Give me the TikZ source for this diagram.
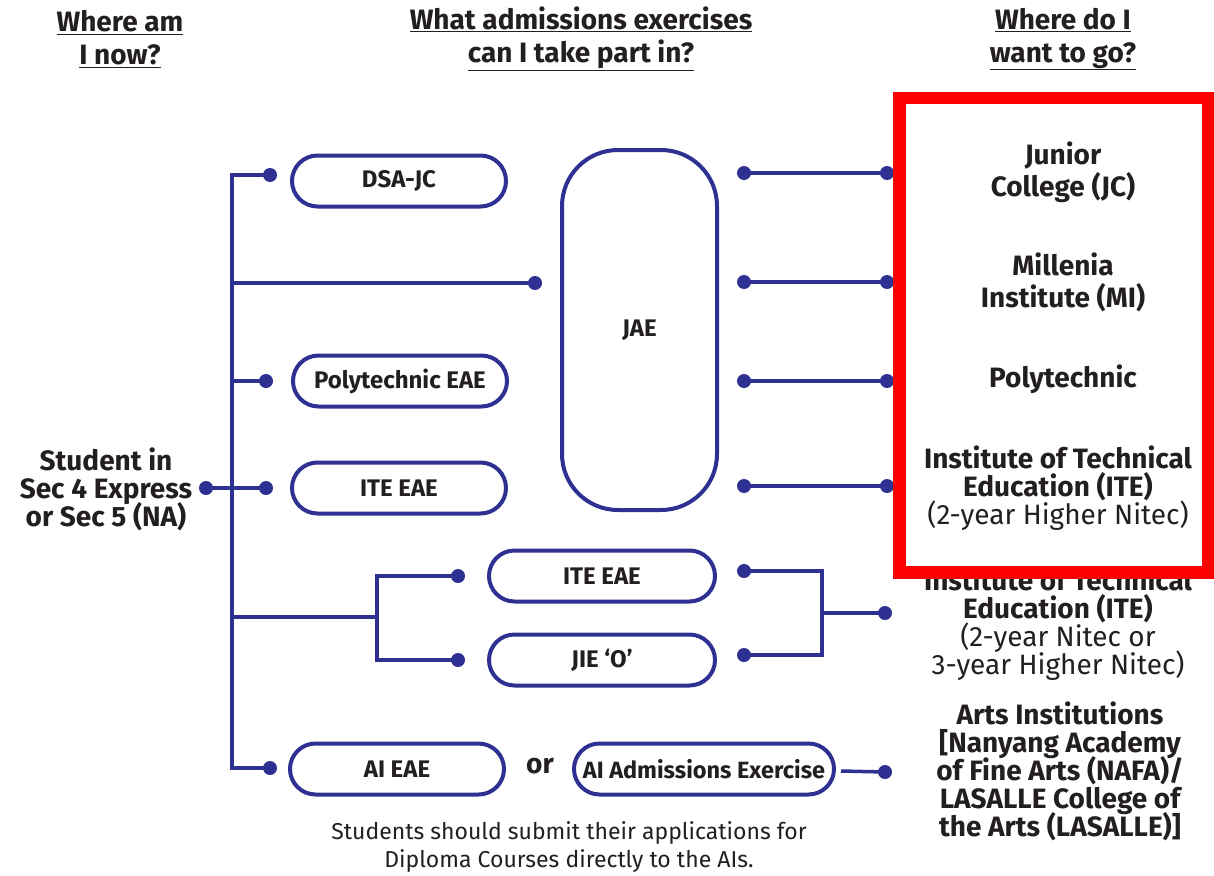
\documentclass[tikz,border=0pt]{standalone}
\usepackage{fontspec}
\setmainfont{Fira Sans}
\usetikzlibrary{shapes.misc}
\definecolor{navy}{HTML}{2E3192}
\definecolor{ink}{HTML}{231F20}
\newcommand\tightlines{\lineskiplimit=-30pt\relax\lineskip=0pt\relax}
\begin{document}
\begin{tikzpicture}[x=1pt,y=-1pt,
  link/.style={draw=navy, line width=3.5pt},
  dot/.style={circle, fill=navy, inner sep=0pt, minimum size=14pt},
  pill/.style={draw=navy, line width=4pt, rounded rectangle, minimum width=214pt, minimum height=51pt, inner sep=0pt, text=ink, font=\bfseries\fontsize{24}{26}\selectfont},
  dest/.style={align=center, text=ink, font=\bfseries\fontsize{28}{28}\selectfont\tightlines},
  head/.style={align=center, text=ink, font=\bfseries\fontsize{28}{33}\selectfont},
  note/.style={align=center, text=ink, font=\fontsize{23}{28}\selectfont\tightlines}]
\useasboundingbox (0,0) rectangle (1214,875);
\fill[white] (0,0) rectangle (1214,875);

% headings
\node[head] (h1) at (120,39) {\underline{Where am}\\\underline{I now?}};
\node[head] (h2) at (581,39) {\underline{What admissions exercises}\\\underline{can I take part in?}};
\node[head] (h3) at (1063,39) {\underline{Where do I}\\\underline{want to go?}};

% start
\node[dest] (st) at (106,489) {Student in\\Sec 4 Express\\or Sec 5 (NA)};
\node[dot] (d0) at (206,488) {};

% trunk coordinates
\coordinate (tTop) at (232,175);
\coordinate (tBot) at (232,768);
\coordinate (tJAE) at (232,283);
\coordinate (tPoly) at (232,381);
\coordinate (tITE) at (232,488);
\coordinate (tLow) at (232,617);
\coordinate (bL) at (377,617);
\coordinate (bLt) at (377,576);
\coordinate (bLb) at (377,660);
\coordinate (bRt) at (822,571);
\coordinate (bRb) at (822,655);
\coordinate (bRm) at (822,613);

% dots feeding exercises
\node[dot] (dDSA) at (270,175) {};
\node[dot] (dJAE) at (535,283) {};
\node[dot] (dPoly) at (266,381) {};
\node[dot] (dITE) at (266,488) {};
\node[dot] (dITE2) at (458,576) {};
\node[dot] (dJIE) at (458,660) {};
\node[dot] (dAI) at (270,768) {};

% exercise pills
\node[pill] (pDSA) at (399,181) {DSA-JC};
\node[pill] (pPoly) at (400,381) {Polytechnic EAE};
\node[pill] (pITE) at (399,488) {ITE EAE};
\node[pill, minimum width=226pt] (pITE2) at (602,576) {ITE EAE};
\node[pill, minimum width=226pt] (pJIE) at (602,660) {JIE `O'};
\node[pill] (pAI) at (397,769) {AI EAE};
\node[pill, minimum width=260pt, font=\bfseries\fontsize{23.5}{26}\selectfont] (pAIA) at (704,769) {AI Admissions Exercise};
\node[text=ink, font=\bfseries\fontsize{28}{28}\selectfont] (or) at (540,766) {or};

% JAE
\node[draw=navy, line width=4pt, rounded corners=56pt, minimum width=155pt, minimum height=360pt, text=ink, font=\bfseries\fontsize{24}{26}\selectfont] (jae) at (639.5,330) {JAE};

% JAE outputs
\node[dot] (jo1) at (744,173) {};
\node[dot] (jo2) at (744,282) {};
\node[dot] (jo3) at (744,381) {};
\node[dot] (jo4) at (744,486) {};
\node[dot] (je1) at (887,173) {};
\node[dot] (je2) at (887,282) {};
\node[dot] (je3) at (887,381) {};
\node[dot] (je4) at (887,486) {};

% lower outputs
\node[dot] (ro1) at (744,571) {};
\node[dot] (ro2) at (744,655) {};
\node[dot] (re1) at (885,613) {};
\node[dot] (re2) at (885,772) {};

% connectors
\draw[link] (dDSA.center) -- (tTop) -- (tBot) -- (dAI.center);
\draw[link] (tJAE) -- (dJAE.center);
\draw[link] (tPoly) -- (dPoly.center);
\draw[link] (d0.center) -- (dITE.center);
\draw[link] (tLow) -- (bL);
\draw[link] (dITE2.center) -- (bLt) -- (bLb) -- (dJIE.center);
\draw[link] (ro1.center) -- (bRt) -- (bRb) -- (ro2.center);
\draw[link] (bRm) -- (re1.center);
\draw[link] (pAIA.east) ++(5,2) coordinate (aiS) (aiS) -- (re2.center);
\draw[link] (jo1.center) -- (je1.center);
\draw[link] (jo2.center) -- (je2.center);
\draw[link] (jo3.center) -- (je3.center);
\draw[link] (jo4.center) -- (je4.center);

% destinations
\node[dest, font=\bfseries\fontsize{28}{32}\selectfont\tightlines] (jc) at (1063,172) {Junior\\College (JC)};
\node[dest, font=\bfseries\fontsize{28}{32}\selectfont\tightlines] (mi) at (1063,282) {Millenia\\Institute (MI)};
\node[dest] (poly) at (1063,379) {Polytechnic};
\node[dest] (ite1) at (1058,488) {Institute of Technical\\Education (ITE)\\\mdseries(2-year Higher Nitec)};
\node[dest] (ite2) at (1058,624.5) {Institute of Technical\\Education (ITE)\\\mdseries(2-year Nitec or\\\mdseries3-year Higher Nitec)};
\node[dest] (arts) at (1060,771) {Arts Institutions\\{[}Nanyang Academy\\of Fine Arts (NAFA)/\\LASALLE College of\\the Arts (LASALLE)]};

% note
\node[note] (nt) at (569,847) {Students should submit their applications for\\Diploma Courses directly to the AIs.};

% highlight frame
\draw[red, line width=12.5pt] (899.5,98) rectangle (1208,572.5);
\end{tikzpicture}
\end{document}
